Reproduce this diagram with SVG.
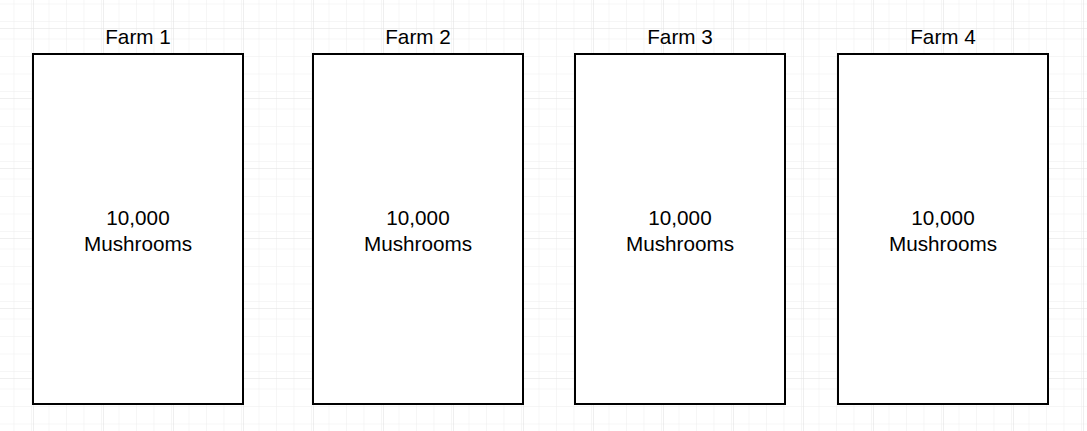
<svg xmlns="http://www.w3.org/2000/svg" width="1087" height="431" viewBox="0 0 1087 431">
  <defs>
    <pattern id="gridMinor" x="33" y="28" width="17.5" height="17.5" patternUnits="userSpaceOnUse">
      <path d="M 17.5 0 L 0 0 0 17.5" fill="none" stroke="#eeeeee" stroke-width="1"/>
    </pattern>
    <pattern id="gridMajor" x="33" y="28" width="70" height="70" patternUnits="userSpaceOnUse">
      <rect width="70" height="70" fill="url(#gridMinor)"/>
      <path d="M 70 0 L 0 0 0 70" fill="none" stroke="#e0e0e0" stroke-width="1"/>
    </pattern>
    <style>
      .farm { fill: #ffffff; stroke: #000000; stroke-width: 2; }
      .title, .body { font-family: "Liberation Sans", Arial, sans-serif; font-size: 20.7px; fill: #000000; text-anchor: middle; }
    </style>
  </defs>
  <rect width="1087" height="431" fill="#ffffff"/>
  <rect width="1087" height="431" fill="url(#gridMajor)"/>

  <g id="farm1">
    <text class="title" x="138" y="44">Farm 1</text>
    <rect class="farm" x="33" y="54" width="210" height="350"/>
    <text class="body" x="138" y="225">10,000</text>
    <text class="body" x="138" y="251">Mushrooms</text>
  </g>
  <g id="farm2">
    <text class="title" x="418" y="44">Farm 2</text>
    <rect class="farm" x="313" y="54" width="210" height="350"/>
    <text class="body" x="418" y="225">10,000</text>
    <text class="body" x="418" y="251">Mushrooms</text>
  </g>
  <g id="farm3">
    <text class="title" x="680" y="44">Farm 3</text>
    <rect class="farm" x="575" y="54" width="210" height="350"/>
    <text class="body" x="680" y="225">10,000</text>
    <text class="body" x="680" y="251">Mushrooms</text>
  </g>
  <g id="farm4">
    <text class="title" x="943" y="44">Farm 4</text>
    <rect class="farm" x="838" y="54" width="210" height="350"/>
    <text class="body" x="943" y="225">10,000</text>
    <text class="body" x="943" y="251">Mushrooms</text>
  </g>
  <g id="connectors"></g>
</svg>
